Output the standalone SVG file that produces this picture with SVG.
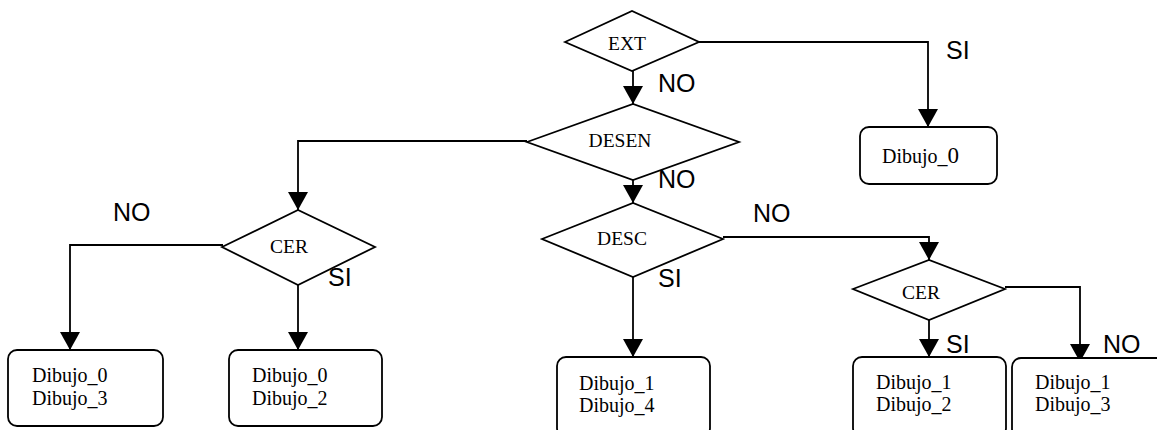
<svg xmlns="http://www.w3.org/2000/svg" width="1157" height="430" viewBox="0 0 1157 430">
<style>
.d{fill:#fff;stroke:#000;stroke-width:1.8;stroke-linejoin:miter}
.b{fill:#fff;stroke:#000;stroke-width:1.8}
.c{fill:none;stroke:#000;stroke-width:1.8;marker-end:url(#ah)}
.t{font-family:"Liberation Serif","Times New Roman",serif;font-size:19.5px;fill:#000}
.bt{font-family:"Liberation Serif","Times New Roman",serif;font-size:20px;fill:#000}
.l{font-family:"Liberation Sans",Arial,sans-serif;font-size:25px;fill:#000}
</style>
<defs>
<marker id="ah" viewBox="0 0 18 20" refX="18" refY="10" markerWidth="18" markerHeight="20" markerUnits="userSpaceOnUse" orient="auto">
<path d="M0,0 L18,10 L0,20 z" fill="#000"/>
</marker>
</defs>
<rect width="1157" height="430" fill="#fff"/>
<g id="connectors">
<path class="c" d="M698,42 H928 V127"/>
<path class="c" d="M633,64 V104"/>
<path class="c" d="M527,141 H298 V210"/>
<path class="c" d="M633,174 V203"/>
<path class="c" d="M223,245 H70 V350"/>
<path class="c" d="M298,279 V350"/>
<path class="c" d="M633,271 V357"/>
<path class="c" d="M723,237 H929 V260"/>
<path class="c" d="M929,314 V357"/>
<path class="c" d="M1005,287 H1080 V362"/>
</g>
<g id="ext"><polygon class="d" points="565,42 632,11 699,42 632,71"/><text class="t" x="627" y="50" text-anchor="middle">EXT</text></g>
<g id="desen"><polygon class="d" points="527,142 633,104 739,142 633,180"/><text class="t" x="620" y="147" text-anchor="middle">DESEN</text></g>
<g id="cer1"><polygon class="d" points="222,247 298,210 375,247 298,285"/><text class="t" x="289" y="253" text-anchor="middle">CER</text></g>
<g id="desc"><polygon class="d" points="542,239 633,203 723,239 633,277"/><text class="t" x="622" y="245" text-anchor="middle">DESC</text></g>
<g id="cer2"><polygon class="d" points="853,289 929,260 1005,289 929,320"/><text class="t" x="921" y="299" text-anchor="middle">CER</text></g>
<g id="box0"><rect class="b" x="860" y="127" width="137" height="57" rx="9"/><text class="bt" x="882" y="163">Dibujo_<tspan font-size="23">0</tspan></text></g>
<g id="boxL1"><rect class="b" x="8" y="350" width="155" height="76" rx="9"/><text class="bt" x="32" y="382">Dibujo_0</text><text class="bt" x="32" y="405">Dibujo_3</text></g>
<g id="boxL2"><rect class="b" x="229" y="350" width="153" height="76" rx="9"/><text class="bt" x="252" y="382">Dibujo_0</text><text class="bt" x="252" y="405">Dibujo_2</text></g>
<g id="boxM"><rect class="b" x="557" y="357" width="153" height="80" rx="9"/><text class="bt" x="579" y="390">Dibujo_1</text><text class="bt" x="579" y="412">Dibujo_4</text></g>
<g id="boxR1"><rect class="b" x="853" y="357" width="153" height="80" rx="9"/><text class="bt" x="876" y="389">Dibujo_1</text><text class="bt" x="876" y="411">Dibujo_2</text></g>
<g id="boxR2"><rect class="b" x="1012" y="358" width="160" height="80" rx="9"/><text class="bt" x="1035" y="389">Dibujo_1</text><text class="bt" x="1035" y="411">Dibujo_3</text></g>
<g id="labels">
<text class="l" x="946" y="59">SI</text>
<text class="l" x="658" y="92">NO</text>
<text class="l" x="658" y="188">NO</text>
<text class="l" x="113" y="221">NO</text>
<text class="l" x="328" y="286">SI</text>
<text class="l" x="658" y="287">SI</text>
<text class="l" x="753" y="222">NO</text>
<text class="l" x="946" y="353">SI</text>
<text class="l" x="1103" y="353">NO</text>
</g>
</svg>
